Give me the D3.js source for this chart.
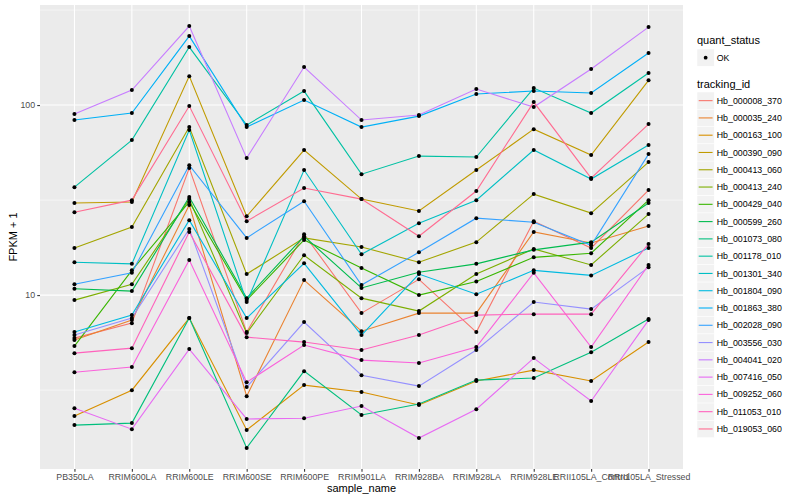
<!DOCTYPE html>
<html>
<head>
<meta charset="utf-8">
<script src="https://cdn.jsdelivr.net/npm/d3@7"></script>
<style>
  body { margin: 0; background: #fff; }
  text { font-family: "Liberation Sans", Arial, Helvetica, sans-serif; }
</style>
</head>
<body>
<div id="chart"></div>
<script>
// sample names on the x axis
var samples = ["PB350LA", "RRIM600LA", "RRIM600LE", "RRIM600SE", "RRIM600PE", "RRIM901LA",
               "RRIM928BA", "RRIM928LA", "RRIM928LE", "RRII105LA_Control", "RRII105LA_Stressed"];

var trackingIds = ["Hb_000008_370", "Hb_000035_240", "Hb_000163_100", "Hb_000390_090", "Hb_000413_060",
                   "Hb_000413_240", "Hb_000429_040", "Hb_000599_260", "Hb_001073_080", "Hb_001178_010",
                   "Hb_001301_340", "Hb_001804_090", "Hb_001863_380", "Hb_002028_090", "Hb_003556_030",
                   "Hb_004041_020", "Hb_007416_050", "Hb_009252_060", "Hb_011053_010", "Hb_019053_060"];

// FPKM + 1, one array per gene, in sample order
var Hb_000008_370 = [5.94, 7.12, 46.6, 6.39, 20.9, 8.04, 12.1, 6.39, 24.5, 17.7, 35.7];
var Hb_000035_240 = [5.80, 7.39, 29.8, 2.94, 12.0, 6.46, 8.04, 8.04, 21.5, 18.8, 23.1];
var Hb_000163_100 = [2.31, 3.16, 7.57, 1.95, 3.36, 3.09, 2.64, 3.53, 4.03, 3.53, 5.66];
var Hb_000390_090 = [30.5, 30.9, 142, 26.0, 58.0, 32.0, 27.7, 45.5, 74.7, 54.6, 135];
var Hb_000413_060 = [17.7, 22.8, 76.6, 12.9, 20.0, 17.9, 14.9, 19.0, 34.0, 27.0, 50.1];
var Hb_000413_240 = [9.41, 11.4, 32.0, 6.31, 16.2, 9.64, 8.24, 12.9, 17.5, 14.4, 26.7];
var Hb_000429_040 = [5.39, 13.5, 30.9, 9.41, 19.5, 13.9, 10.0, 11.8, 15.8, 16.6, 31.6];
var Hb_000599_260 = [10.8, 10.5, 32.8, 9.64, 20.4, 10.9, 13.2, 14.6, 17.3, 19.0, 30.5];
var Hb_001073_080 = [2.07, 2.12, 7.57, 1.57, 3.98, 2.34, 2.67, 3.57, 3.66, 5.01, 7.48];
var Hb_001178_010 = [37.0, 65.4, 202, 78.5, 118.5, 43.3, 53.9, 53.3, 122.9, 90.8, 147.4];
var Hb_001301_340 = [14.9, 14.6, 73.9, 9.19, 45.5, 16.4, 23.9, 31.6, 58.0, 40.8, 61.6];
var Hb_001804_090 = [6.39, 7.85, 24.8, 7.57, 14.7, 6.16, 12.9, 10.1, 13.5, 12.7, 17.7];
var Hb_001863_380 = [83.4, 90.8, 230.7, 76.6, 106.2, 76.6, 87.5, 114.3, 118.5, 115.7, 187.8];
var Hb_002028_090 = [11.4, 13.1, 48.3, 20.0, 31.2, 11.3, 16.8, 25.4, 24.2, 18.3, 55.2];
var Hb_003556_030 = [6.16, 7.57, 22.3, 3.28, 7.21, 3.79, 3.32, 5.14, 9.19, 8.44, 14.0];
var Hb_004041_020 = [89.7, 119.9, 260.4, 52.6, 158.5, 83.4, 88.6, 121.4, 97.6, 154.7, 257.3];
var Hb_007416_050 = [2.54, 1.97, 5.20, 2.23, 2.25, 2.61, 1.77, 2.51, 4.66, 2.77, 7.39];
var Hb_009252_060 = [3.93, 4.18, 15.3, 3.48, 5.46, 4.55, 4.39, 5.33, 13.1, 5.33, 14.4];
var Hb_011053_010 = [4.95, 5.26, 21.5, 6.01, 5.66, 5.14, 6.16, 7.85, 7.94, 7.94, 18.6];
var Hb_019053_060 = [27.3, 31.6, 98.8, 24.5, 36.6, 32.0, 20.4, 35.3, 103.7, 41.3, 79.4];

var yTicks = [10, 100];
var statusLevels = ["OK"];

var seriesValues = [Hb_000008_370, Hb_000035_240, Hb_000163_100, Hb_000390_090, Hb_000413_060,
                    Hb_000413_240, Hb_000429_040, Hb_000599_260, Hb_001073_080, Hb_001178_010,
                    Hb_001301_340, Hb_001804_090, Hb_001863_380, Hb_002028_090, Hb_003556_030,
                    Hb_004041_020, Hb_007416_050, Hb_009252_060, Hb_011053_010, Hb_019053_060];

// ggplot default hue palette for 20 levels
var hues = ["#F8766D", "#EA8331", "#D89000", "#C09B00", "#A3A500", "#7CAE00", "#39B600", "#00BB4E",
            "#00BF7D", "#00C1A3", "#00BFC4", "#00BAE0", "#00B0F6", "#35A2FF", "#9590FF", "#C77CFF",
            "#E76BF3", "#FA62DB", "#FF62BC", "#FF6C91"];

var series = trackingIds.map(function(id, i) {
  return { id: id, values: seriesValues[i].map(function(v, j) { return { sample: samples[j], value: v }; }) };
});

var width = 800, height = 500;
var panel = { left: 40, right: 683, top: 5, bottom: 469 };

var svg = d3.select("#chart")
  .append("svg")
    .attr("width", width)
    .attr("height", height);

var color = d3.scaleOrdinal().domain(trackingIds).range(hues);

var x = d3.scalePoint()
  .domain(samples)
  .range([panel.left, panel.right])
  .padding(0.6);

// log scale with ggplot-like 5% expansion
var allVals = d3.merge(seriesValues);
var lo = Math.log10(d3.min(allVals)), hi = Math.log10(d3.max(allVals));
var pad = (hi - lo) * 0.05;
var y = d3.scaleLog()
  .domain([Math.pow(10, lo - pad), Math.pow(10, hi + pad)])
  .range([panel.bottom, panel.top]);

// panel background
svg.append("rect")
  .attr("x", panel.left)
  .attr("y", panel.top)
  .attr("width", panel.right - panel.left)
  .attr("height", panel.bottom - panel.top)
  .attr("fill", "#EBEBEB");

// minor grid (halfway between decades)
var minor = [Math.pow(10, 0.5), Math.pow(10, 1.5), Math.pow(10, 2.5)].filter(function(v) {
  return v >= y.domain()[0] && v <= y.domain()[1];
});
svg.append("g").selectAll("line")
  .data(minor)
  .enter().append("line")
    .attr("x1", panel.left).attr("x2", panel.right)
    .attr("y1", function(d) { return y(d); }).attr("y2", function(d) { return y(d); })
    .attr("stroke", "#fff").attr("stroke-width", 0.53);

// major grid
svg.append("g").selectAll("line")
  .data(yTicks)
  .enter().append("line")
    .attr("x1", panel.left).attr("x2", panel.right)
    .attr("y1", function(d) { return y(d); }).attr("y2", function(d) { return y(d); })
    .attr("stroke", "#fff").attr("stroke-width", 1.07);

svg.append("g").selectAll("line")
  .data(samples)
  .enter().append("line")
    .attr("y1", panel.top).attr("y2", panel.bottom)
    .attr("x1", function(d) { return x(d); }).attr("x2", function(d) { return x(d); })
    .attr("stroke", "#fff").attr("stroke-width", 1.07);

// lines
var line = d3.line()
  .x(function(d) { return x(d.sample); })
  .y(function(d) { return y(d.value); });

svg.append("g").selectAll("path")
  .data(series)
  .enter().append("path")
    .attr("fill", "none")
    .attr("stroke", function(d) { return color(d.id); })
    .attr("stroke-width", 1.1)
    .attr("d", function(d) { return line(d.values); });

// points
svg.append("g").selectAll("circle")
  .data(d3.merge(series.map(function(s) { return s.values; })))
  .enter().append("circle")
    .attr("cx", function(d) { return x(d.sample); })
    .attr("cy", function(d) { return y(d.value); })
    .attr("r", 2)
    .attr("fill", "#000");

// axes
var xAxis = svg.append("g")
  .attr("transform", "translate(0," + panel.bottom + ")")
  .call(d3.axisBottom(x).tickSize(2.75).tickPadding(2.2));

var yAxis = svg.append("g")
  .attr("transform", "translate(" + panel.left + ",0)")
  .call(d3.axisLeft(y).tickValues(yTicks).tickFormat(d3.format("d")).tickSize(2.75).tickPadding(2.2));

[xAxis, yAxis].forEach(function(a) {
  a.select(".domain").remove();
  a.selectAll(".tick line").attr("stroke", "#333333").attr("stroke-width", 1.07);
  a.selectAll(".tick text")
    .attr("fill", "#4D4D4D")
    .style("font-size", "8.8px")
    .style("font-family", "'Liberation Sans', Arial, sans-serif");
});

// axis titles
svg.append("text")
  .attr("x", (panel.left + panel.right) / 2)
  .attr("y", 492)
  .attr("text-anchor", "middle")
  .style("font-size", "11px")
  .text("sample_name");

svg.append("text")
  .attr("transform", "translate(17," + ((panel.top + panel.bottom) / 2) + ") rotate(-90)")
  .attr("text-anchor", "middle")
  .style("font-size", "11px")
  .text("FPKM + 1");

// legend: quant_status
var legX = 697, keySize = 17.28;
svg.append("text")
  .attr("x", legX).attr("y", 44)
  .style("font-size", "11px")
  .text("quant_status");

var statusLeg = svg.append("g").selectAll("g")
  .data(statusLevels)
  .enter().append("g")
    .attr("transform", function(d, i) { return "translate(" + legX + "," + (49 + i * keySize) + ")"; });
statusLeg.append("rect")
  .attr("width", keySize).attr("height", keySize)
  .attr("fill", "#F2F2F2").attr("stroke", "#fff").attr("stroke-width", 0.5);
statusLeg.append("circle")
  .attr("cx", keySize / 2).attr("cy", keySize / 2).attr("r", 1.9)
  .attr("fill", "#000");
statusLeg.append("text")
  .attr("x", keySize + 2.5).attr("y", keySize / 2 + 3.1)
  .style("font-size", "8.8px")
  .text(function(d) { return d; });

// legend: tracking_id
svg.append("text")
  .attr("x", legX).attr("y", 88)
  .style("font-size", "11px")
  .text("tracking_id");

var idLeg = svg.append("g").selectAll("g")
  .data(trackingIds)
  .enter().append("g")
    .attr("transform", function(d, i) { return "translate(" + legX + "," + (92 + i * keySize) + ")"; });
idLeg.append("rect")
  .attr("width", keySize).attr("height", keySize)
  .attr("fill", "#F2F2F2").attr("stroke", "#fff").attr("stroke-width", 0.5);
idLeg.append("line")
  .attr("x1", 1.7).attr("x2", keySize - 1.7)
  .attr("y1", keySize / 2).attr("y2", keySize / 2)
  .attr("stroke", function(d) { return color(d); })
  .attr("stroke-width", 1.1);
idLeg.append("text")
  .attr("x", keySize + 2.5).attr("y", keySize / 2 + 3.1)
  .style("font-size", "8.8px")
  .text(function(d) { return d; });
</script>
</body>
</html>
